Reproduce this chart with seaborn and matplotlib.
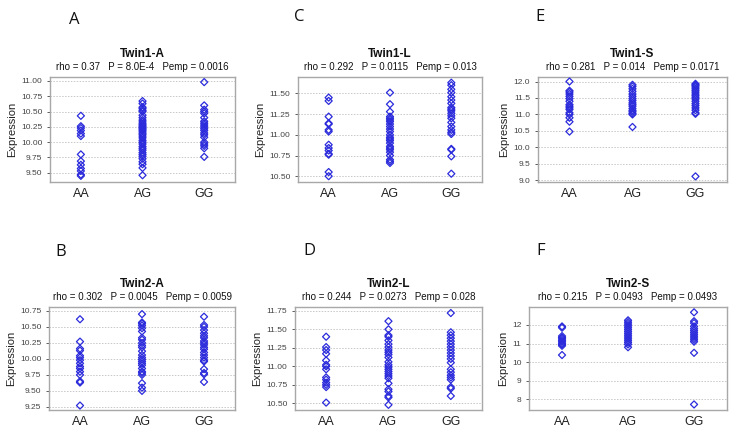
import pandas as pd
import matplotlib
matplotlib.use("Agg")
import matplotlib.pyplot as plt
import seaborn as sns

# genotype groups
genotypes = ['AA', 'AG', 'GG']

# Twin1-A
t1a_aa = [10.43, 10.26, 10.23, 10.19, 10.14, 10.10, 9.80, 9.69, 9.63, 9.57, 9.53, 9.47, 9.45]
t1a_ag = [10.67, 10.63, 10.57, 10.55, 10.52, 10.50, 10.44, 10.40, 10.36, 10.33, 10.30, 10.28,
          10.26, 10.24, 10.22, 10.20, 10.18, 10.15, 10.13, 10.10, 10.07, 10.03, 10.00, 9.97,
          9.93, 9.90, 9.87, 9.83, 9.80, 9.77, 9.73, 9.68, 9.64, 9.58, 9.46]
t1a_gg = [10.98, 10.60, 10.53, 10.50, 10.47, 10.40, 10.34, 10.31, 10.28, 10.25, 10.22, 10.19,
          10.15, 10.12, 10.08, 10.00, 9.97, 9.94, 9.90, 9.76]

# Twin1-L
t1l_aa = [11.45, 11.41, 11.22, 11.14, 11.13, 11.06, 11.04, 10.88, 10.84, 10.81, 10.77, 10.76,
          10.55, 10.50]
t1l_ag = [11.51, 11.37, 11.28, 11.22, 11.20, 11.18, 11.16, 11.13, 11.10, 11.07, 11.04, 11.00,
          10.97, 10.95, 10.93, 10.90, 10.86, 10.84, 10.82, 10.79, 10.75, 10.70, 10.68, 10.66]
t1l_gg = [11.63, 11.60, 11.55, 11.51, 11.46, 11.42, 11.38, 11.33, 11.31, 11.29, 11.26, 11.23,
          11.20, 11.15, 11.10, 11.06, 11.03, 11.01, 10.83, 10.82, 10.74, 10.53]

# Twin1-S
t1s_aa = [12.00, 11.72, 11.68, 11.62, 11.55, 11.48, 11.40, 11.30, 11.25, 11.20, 11.15, 11.05,
          11.00, 10.90, 10.78, 10.48]
t1s_ag = [11.90, 11.85, 11.78, 11.70, 11.62, 11.55, 11.48, 11.42, 11.35, 11.30, 11.25, 11.18,
          11.12, 11.08, 11.03, 11.00, 10.62]
t1s_gg = [11.93, 11.90, 11.87, 11.83, 11.78, 11.73, 11.68, 11.62, 11.57, 11.52, 11.47, 11.40,
          11.33, 11.27, 11.20, 11.13, 11.05, 11.02, 9.12]

# Twin2-A
t2a_aa = [10.62, 10.27, 10.16, 10.13, 10.05, 10.02, 9.98, 9.93, 9.88, 9.85, 9.80, 9.75, 9.65,
          9.63, 9.27]
t2a_ag = [10.70, 10.57, 10.55, 10.52, 10.48, 10.43, 10.33, 10.30, 10.25, 10.21, 10.18, 10.12,
          10.06, 10.02, 9.99, 9.96, 9.93, 9.90, 9.85, 9.80, 9.78, 9.75, 9.62, 9.55, 9.50]
t2a_gg = [10.66, 10.53, 10.50, 10.45, 10.40, 10.36, 10.33, 10.28, 10.25, 10.22, 10.18, 10.15,
          10.10, 10.06, 10.02, 9.98, 9.96, 9.84, 9.78, 9.76, 9.64]

# Twin2-L
t2l_aa = [11.40, 11.26, 11.22, 11.17, 11.08, 11.02, 11.00, 10.96, 10.85, 10.82, 10.78, 10.75,
          10.72, 10.51]
t2l_ag = [11.61, 11.50, 11.42, 11.40, 11.35, 11.30, 11.26, 11.22, 11.19, 11.16, 11.12, 11.06,
          11.02, 10.99, 10.96, 10.93, 10.90, 10.87, 10.84, 10.77, 10.69, 10.66, 10.60, 10.58, 10.48]
t2l_gg = [11.72, 11.46, 11.42, 11.38, 11.34, 11.30, 11.26, 11.22, 11.18, 11.14, 11.10, 11.05,
          10.96, 10.92, 10.88, 10.85, 10.82, 10.72, 10.70, 10.60]

# Twin2-S
t2s_aa = [11.92, 11.85, 11.40, 11.32, 11.25, 11.18, 11.10, 11.02, 10.95, 10.88, 10.38]
t2s_ag = [12.25, 12.15, 12.05, 11.95, 11.85, 11.75, 11.65, 11.55, 11.45, 11.35, 11.25, 11.15,
          11.05, 10.95, 10.80]
t2s_gg = [12.68, 12.20, 12.10, 11.92, 11.80, 11.70, 11.60, 11.50, 11.40, 11.30, 11.20, 11.10,
          10.50, 7.72]

panels = [
    # letter, title, stats, data, ylim, yticks, axes rect, letter pos
    ('A', 'Twin1-A', 'rho = 0.37   P = 8.0E-4   Pemp = 0.0016', (t1a_aa, t1a_ag, t1a_gg),
     (9.35, 11.065), [9.50, 9.75, 10.00, 10.25, 10.50, 10.75, 11.00], '%.2f',
     [0.0676, 0.5826, 0.25, 0.241], (0.100, 0.955)),
    ('C', 'Twin1-L', 'rho = 0.292   P = 0.0115   Pemp = 0.013', (t1l_aa, t1l_ag, t1l_gg),
     (10.43, 11.70), [10.50, 10.75, 11.00, 11.25, 11.50], '%.2f',
     [0.4027, 0.5826, 0.2486, 0.241], (0.405, 0.960)),
    ('E', 'Twin1-S', 'rho = 0.281   P = 0.014   Pemp = 0.0171', (t1s_aa, t1s_ag, t1s_gg),
     (8.95, 12.14), [9.0, 9.5, 10.0, 10.5, 11.0, 11.5, 12.0], '%.1f',
     [0.727, 0.5826, 0.2554, 0.241], (0.730, 0.960)),
    ('B', 'Twin2-A', 'rho = 0.302   P = 0.0045   Pemp = 0.0059', (t2a_aa, t2a_ag, t2a_gg),
     (9.20, 10.81), [9.25, 9.50, 9.75, 10.00, 10.25, 10.50, 10.75], '%.2f',
     [0.0662, 0.0596, 0.2514, 0.236], (0.082, 0.422)),
    ('D', 'Twin2-L', 'rho = 0.244   P = 0.0273   Pemp = 0.028', (t2l_aa, t2l_ag, t2l_gg),
     (10.41, 11.80), [10.50, 10.75, 11.00, 11.25, 11.50, 11.75], '%.2f',
     [0.3986, 0.0596, 0.2527, 0.236], (0.418, 0.425)),
    ('F', 'Twin2-S', 'rho = 0.215   P = 0.0493   Pemp = 0.0493', (t2s_aa, t2s_ag, t2s_gg),
     (7.42, 12.96), [8, 9, 10, 11, 12], '%d',
     [0.7149, 0.0596, 0.2676, 0.236], (0.730, 0.425)),
]

sns.set_style('white')
plt.rcParams['font.family'] = ['Liberation Sans', 'DejaVu Sans']

fig = plt.figure(figsize=(7.4, 4.36), dpi=100)

for letter, title, stats, groups, ylim, yticks, fmt, rect, lpos in panels:
    rows = []
    for g, vals in zip(genotypes, groups):
        rows += [(g, v) for v in vals]
    df = pd.DataFrame(rows, columns=['Genotype', 'Expression'])

    ax = fig.add_axes(rect)
    sns.stripplot(data=df, x='Genotype', y='Expression', order=genotypes, jitter=False,
                  marker='D', size=3.6, linewidth=0.9, ax=ax)
    for coll in ax.collections:
        coll.set_facecolor('none')
        coll.set_edgecolor('#2b2bdc')

    ax.set_ylim(*ylim)
    ax.set_xlim(-0.5, 2.5)
    ax.set_yticks(yticks)
    ax.yaxis.set_major_formatter(matplotlib.ticker.FormatStrFormatter(fmt))
    ax.grid(axis='y', color='#c8c8c8', linestyle=(0, (1.5, 1.5)), linewidth=0.7)
    for sp in ax.spines.values():
        sp.set_color('#a8a8a8')
        sp.set_linewidth(1.0)
    ax.tick_params(axis='y', labelsize=6, colors='#444444', length=2, left=True, width=0.6)
    ax.tick_params(axis='x', labelsize=9, labelcolor='#222222', length=0, pad=4)
    ax.set_xlabel('')
    ax.set_ylabel('Expression', fontsize=8, color='#222222', labelpad=3)

    ax.text(0.5, 1.22, title, transform=ax.transAxes, ha='center', va='center',
            fontsize=8.5, fontweight='bold', color='#111111')
    ax.text(0.5, 1.095, stats, transform=ax.transAxes, ha='center', va='center',
            fontsize=7, color='#111111')
    fig.text(lpos[0], lpos[1], letter, ha='center', va='center', fontsize=12,
             family=['Open Sans', 'DejaVu Sans'], color='#111111')

fig.savefig('out.png', dpi=100)
